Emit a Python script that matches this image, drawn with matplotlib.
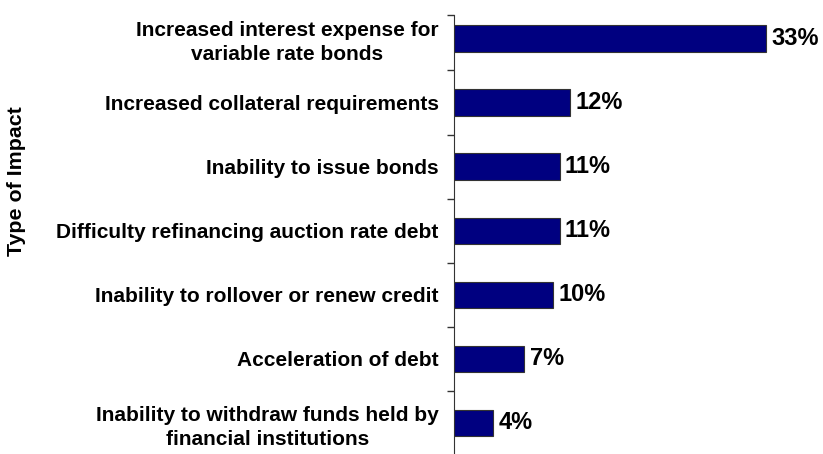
import numpy as np
import matplotlib
matplotlib.use('Agg')
import matplotlib.pyplot as plt
import matplotlib.ticker

plt.rcParams['font.family'] = ['Liberation Sans', 'DejaVu Sans']

# categories listed bottom to top
impacts = ['Inability to withdraw funds held by\nfinancial institutions',
           'Acceleration of debt',
           'Inability to rollover or renew credit',
           'Difficulty refinancing auction rate debt',
           'Inability to issue bonds',
           'Increased collateral requirements',
           'Increased interest expense for\nvariable rate bonds']
# bar lengths; labels show them rounded
pct = [4.1, 7.4, 10.4, 11.1, 11.1, 12.2, 32.8]

fig = plt.figure(figsize=(8.23, 4.54), dpi=100)
ax = fig.add_axes([454/823, 0.0, 1 - 454/823, 1 - 15/454])

ypos = np.arange(len(impacts))
ax.barh(ypos, pct, height=0.41, color='#000080', edgecolor='#333333', linewidth=0.8)

for y, v in zip(ypos, pct):
    ax.text(v + 0.55, y, f'{round(v)}%', va='center', ha='left', fontsize=17, fontweight='bold')

ax.set_xlim(0, 38.8)
ax.set_ylim(-0.484, 6.365)

ax.set_yticks(ypos)
ax.set_yticklabels(impacts, fontsize=15, fontweight='bold', ha='right')
for lab in ax.get_yticklabels():
    lab.set_multialignment('center')
    lab.set_linespacing(1.33)
ax.tick_params(axis='y', which='major', length=0, pad=11)
ax.yaxis.set_minor_locator(matplotlib.ticker.FixedLocator(list(ypos[:-1] + 0.5) + [6.365]))
ax.tick_params(axis='y', which='minor', length=5, direction='out', color='#333333', width=1)
ax.set_xticks([])

for s in ['top', 'right', 'bottom']:
    ax.spines[s].set_visible(False)
ax.spines['left'].set_color('#333333')

fig.text(17/823, 1 - 181/454, 'Type of Impact', rotation=90, va='center', ha='center',
         fontsize=15.4, fontweight='bold')

fig.savefig('out.png', dpi=100)
